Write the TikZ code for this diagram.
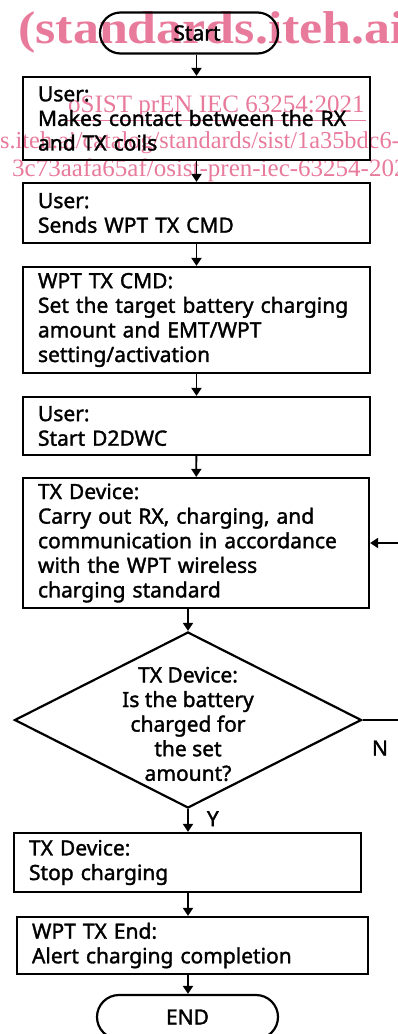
\documentclass[tikz,border=0pt]{standalone}
\usepackage{fontspec}
\setmainfont{Noto Sans}[FakeBold=1.6]
\newfontfamily\wmfont{Liberation Serif}
\usetikzlibrary{shapes.geometric,shapes.misc,arrows.meta,calc}
\definecolor{wmpink}{RGB}{232,122,156}
\begin{document}
\begin{tikzpicture}[x=1pt,y=-1pt,
  every node/.style={font=\fontsize{21}{24.6}\selectfont},
  stepbox/.style={draw, line width=2.2pt, align=left, inner xsep=15pt, inner ysep=0pt},
  term/.style={draw, line width=2.2pt, rounded rectangle, inner sep=0pt},
  decision/.style={draw, line width=2.2pt, diamond, inner sep=0pt},
  arr/.style={line width=1.8pt, -{Triangle[length=8pt,width=10pt]}},
  wm/.style={text=wmpink, inner sep=0pt, anchor=base west}]
\useasboundingbox (0,0) rectangle (398,1034);
\clip (0,0) rectangle (398,1034);

% watermark lines
\node[wm, font=\wmfont\bfseries\fontsize{46}{46}\selectfont] (w1) at (18,43) {\scalebox{1.13}[1]{(standards.iteh.ai)}};
\node[wm, font=\wmfont\fontsize{25}{25}\selectfont] (w2) at (68,112) {oSIST prEN IEC 63254:2021};
\draw[wmpink, line width=1pt] ($(w2.south west)+(-2,3)$) -- ($(w2.south east)+(1,3)$);
\node[wm, font=\wmfont\fontsize{24.3}{24.3}\selectfont] (w3) at (0,148) {s.iteh.ai/catalog/standards/sist/1a35bdc6-};
\node[wm, font=\wmfont\fontsize{25}{25}\selectfont] (w4) at (12,176) {3c73aafa65af/osist-pren-iec-63254-202};

% flow
\node[term, minimum width=178pt, minimum height=41pt] (start) at (189,33) {\hspace*{16pt}Start};
\node[stepbox, text width=317pt, minimum height=83pt] (b1) at (196.5,118.5) {User:\\Makes contact between the RX\\and TX coils};
\node[stepbox, text width=317pt, minimum height=60pt] (b2) at (196.5,213) {User:\\Sends WPT TX CMD};
\node[stepbox, text width=317pt, minimum height=106pt] (b3) at (196.5,320) {WPT TX CMD:\\Set the target battery charging\\amount and EMT/WPT\\setting/activation};
\node[stepbox, text width=317pt, minimum height=58pt] (b4) at (196.5,426) {User:\\Start D2DWC};
\node[stepbox, text width=316pt, minimum height=130pt] (b5) at (196,543) {TX Device:\\Carry out RX, charging, and\\communication in accordance\\with the WPT wireless\\charging standard};
\node[decision, minimum width=347pt, minimum height=176pt] (dia) at (188,720) {};
\node[align=center, inner sep=0pt] (diatext) at (188,724) {TX Device:\\Is the battery\\charged for\\the set\\amount?};
\node[stepbox, text width=317pt, minimum height=59pt] (b6) at (187.5,862.5) {TX Device:\\Stop charging};
\node[stepbox, text width=321pt, minimum height=57pt] (b7) at (192.5,945.5) {WPT TX End:\\Alert charging completion};
\node[term, minimum width=181pt, minimum height=44pt] (end) at (187.5,1017) {END};

\draw[arr] (start.south -| b1.north) -- (b1.north);
\draw[arr] (b1) -- (b2);
\draw[arr] (b2) -- (b3);
\draw[arr] (b3) -- (b4);
\draw[arr] (b4) -- (b5);
\draw[arr] (b5.south -| dia.north) -- (dia.north);
\draw[arr] (dia.south) -- (b6.north -| dia.south) node[pos=0.42, right=18pt, inner sep=0pt] (ylab) {Y};
\draw[arr] (b6.south -| dia.south) -- (b7.north -| dia.south);
\draw[arr] (b7.south -| dia.south) -- (end.north -| dia.south);
\coordinate (loop) at (404,720);
\draw[arr] (dia.east) -- (loop) |- (b5.east);
\node[inner sep=0pt] (nlab) at (380,748) {N};
\end{tikzpicture}
\end{document}
